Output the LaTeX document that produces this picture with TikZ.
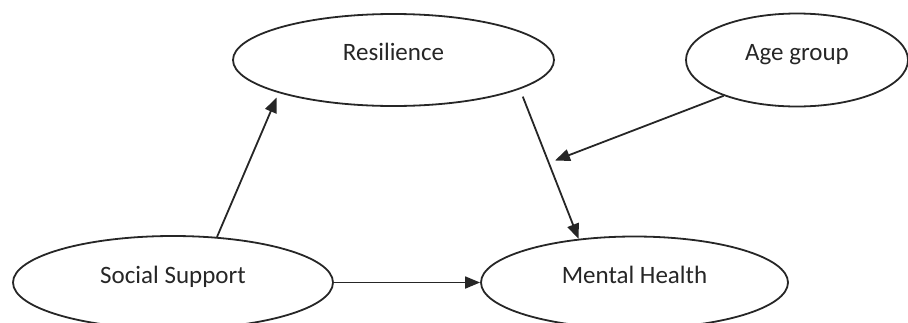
\documentclass[tikz,border=0pt]{standalone}
\usepackage{fontspec}
\setmainfont{Carlito}
\usetikzlibrary{shapes.geometric,arrows.meta}
\begin{document}
\begin{tikzpicture}[x=1pt,y=-1pt,
  var/.style={draw=black!85,line width=1.8pt,ellipse,inner sep=0pt,
    font=\fontsize{25}{28}\selectfont,text=black!85,
    text height=0.7em,text depth=0.58em},
  conn/.style={draw=black!85,line width=1.8pt,
    -{Triangle[length=15pt,width=12pt]}}]
\useasboundingbox (0,0) rectangle (908,322);
\node[var,minimum width=321pt,minimum height=92pt] (res) at (393.5,60) {Resilience};
\node[var,minimum width=222pt,minimum height=93pt] (age) at (797,60) {Age group};
\node[var,minimum width=320pt,minimum height=93pt] (ss) at (173,282.5) {Social Support};
\node[var,minimum width=307pt,minimum height=92pt] (mh) at (634.5,282.5) {Mental Health};
\coordinate (mod) at (555,160.5);
\draw[conn,shorten >=5pt] (ss.46) -- (res.196);
\draw[conn] (ss.east) -- (mh.west);
\draw[conn,shorten <=8pt] (res.-13) -- (mh.142);
\draw[conn] (age.206) -- (mod);
\end{tikzpicture}
\end{document}
